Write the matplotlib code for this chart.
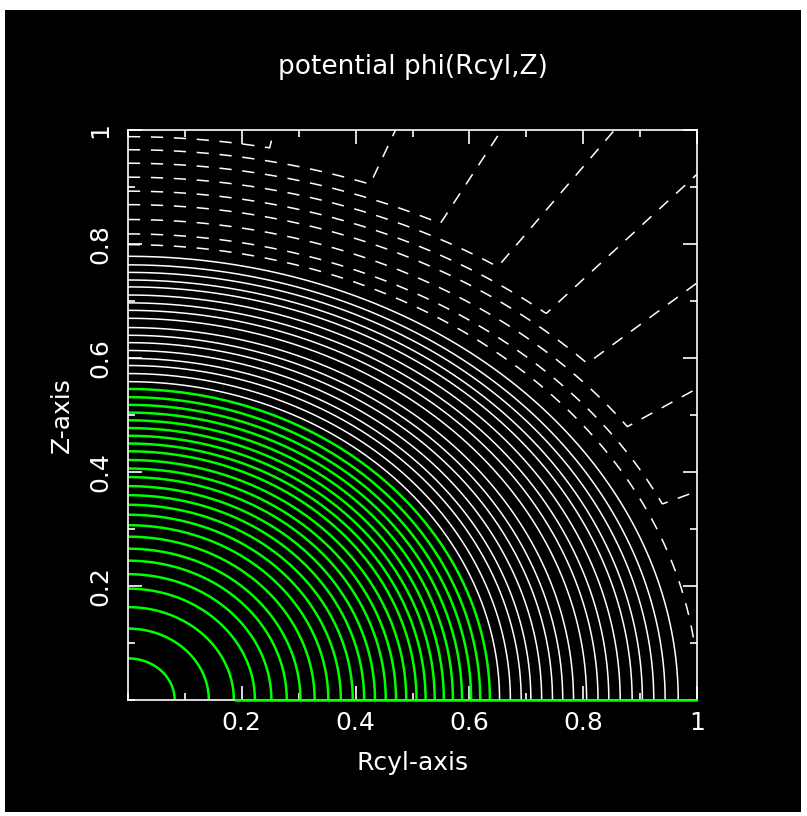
import numpy as np
import matplotlib
matplotlib.use("Agg")
import matplotlib.pyplot as plt
from matplotlib.patches import Rectangle
from matplotlib.ticker import FixedLocator, FixedFormatter, MultipleLocator

# ---------------- data ----------------
title = "potential phi(Rcyl,Z)"
xlabel = "Rcyl-axis"
ylabel = "Z-axis"
xtick_vals = [0.2, 0.4, 0.6, 0.8, 1.0]
xtick_labels = ["0.2", "0.4", "0.6", "0.8", "1"]
ytick_vals = [0.2, 0.4, 0.6, 0.8, 1.0]
ytick_labels = ["0.2", "0.4", "0.6", "0.8", "1"]

# contour levels (given as the Rcyl-axis intercept of each contour)
levels_green = [0.082, 0.142, 0.186, 0.223, 0.252, 0.279, 0.303, 0.328, 0.352,
                0.374, 0.395, 0.415, 0.434, 0.453, 0.471, 0.489, 0.507, 0.523,
                0.539, 0.555, 0.571, 0.587, 0.603, 0.619, 0.636]
levels_white = [0.653, 0.672, 0.691, 0.708, 0.727, 0.746, 0.764, 0.783, 0.806,
                0.826, 0.845, 0.865, 0.886, 0.904, 0.924, 0.944, 0.967]
levels_dashed = [1.003, 1.035, 1.067, 1.100, 1.130, 1.161, 1.192, 1.222, 1.251]

# flattening of the contours (Z-intercept / R-intercept) versus level
flat_level = [0.0, 0.082, 0.186, 0.303, 0.395, 0.489, 0.636, 0.967, 1.03, 1.40]
flat_ratio = [0.89, 0.89, 0.876, 0.876, 0.867, 0.861, 0.858, 0.805, 0.79, 0.79]

# green trace running along the Z=0 edge starts at this contour's foot
green_edge_from_level = levels_green[2]

# ---------------- figure ----------------
W, H = 807, 816
fig = plt.figure(figsize=(W / 100, H / 100), dpi=100)
fig.patch.set_facecolor("white")
fig.add_artist(Rectangle((5 / W, 4 / H), 796 / W, 802 / H,
                         transform=fig.transFigure, facecolor="black",
                         edgecolor="none", zorder=0))

ax = fig.add_axes([128 / W, 1 - 700 / H, 569 / W, 570 / H])
ax.set_facecolor("black")
ax.set_zorder(1)

# field whose iso-lines are the flattened contours (constant along rays beyond r=1)
n = 801
g = np.linspace(0.0, 1.0, n)
Rg, Zg = np.meshgrid(g, g)
rad = np.hypot(Rg, Zg)
sc = np.maximum(rad, 1.0)
Rn, Zn = Rg / sc, Zg / sc
F = np.hypot(Rn, Zn)
for _ in range(80):
    q = np.interp(F, flat_level, flat_ratio)
    F = np.sqrt(Rn ** 2 + (Zn / q) ** 2)

green = "#00ff00"
levels = levels_green + levels_white + levels_dashed
colors = [green] * len(levels_green) + ["white"] * (len(levels_white) + len(levels_dashed))
lws = [1.8] * len(levels_green) + [1.1] * (len(levels_white) + len(levels_dashed))
dash = (0, (8.0, 7.0))
lss = ["solid"] * (len(levels_green) + len(levels_white)) + [dash] * len(levels_dashed)

ax.contour(Rg, Zg, F, levels=levels, colors=colors, linewidths=lws,
           linestyles=lss, zorder=2)

ax.plot([green_edge_from_level, 1.0], [0.0, 0.0], color=green, lw=1.8,
        clip_on=False, zorder=4, solid_capstyle="butt")

ax.set_xlim(0, 1)
ax.set_ylim(0, 1)

for s in ax.spines.values():
    s.set_color("white")
    s.set_linewidth(1.2)

ax.xaxis.set_major_locator(FixedLocator(xtick_vals))
ax.xaxis.set_major_formatter(FixedFormatter(xtick_labels))
ax.yaxis.set_major_locator(FixedLocator(ytick_vals))
ax.yaxis.set_major_formatter(FixedFormatter(ytick_labels))
ax.xaxis.set_minor_locator(MultipleLocator(0.1))
ax.yaxis.set_minor_locator(MultipleLocator(0.1))
ax.tick_params(which="both", direction="in", top=True, right=True,
               color="white", width=1.2, labelcolor="white", labelsize=18)
ax.tick_params(which="major", length=10)
ax.tick_params(which="minor", length=5)
ax.tick_params(axis="x", which="major", pad=8)
ax.tick_params(axis="y", which="major", pad=11)
for lab in ax.get_yticklabels():
    lab.set_rotation(90)
    lab.set_va("center")
    lab.set_ha("right")

fig.text(413 / W, 1 - 67 / H, title, color="white", fontsize=19,
         ha="center", va="center")
fig.text(413 / W, 1 - 763 / H, xlabel, color="white", fontsize=18,
         ha="center", va="center")
fig.text(62 / W, 1 - 415 / H, ylabel, color="white", fontsize=18,
         ha="center", va="center", rotation=90)

fig.savefig("out.png", dpi=100, facecolor=fig.get_facecolor())
